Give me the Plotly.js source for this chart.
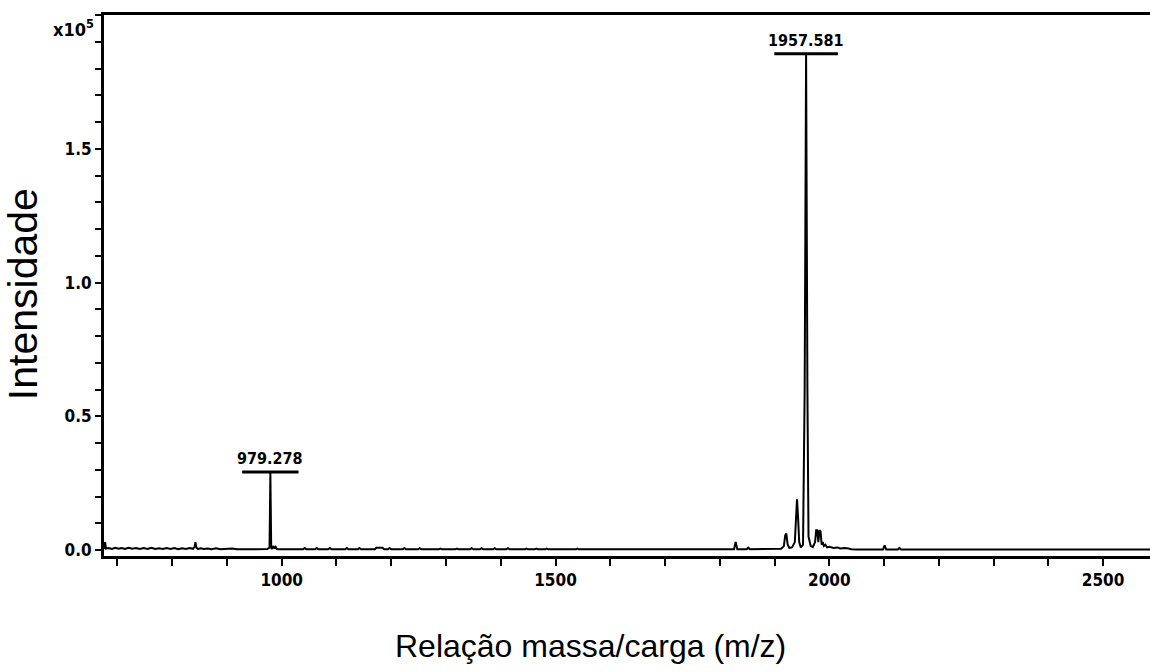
<!DOCTYPE html>
<html>
<head>
<meta charset="utf-8">
<script src="https://cdn.plot.ly/plotly-3.0.1.min.js"></script>
<style>html,body{margin:0;padding:0;background:#fff;}#chart{width:1150px;height:672px;}</style>
</head>
<body>
<div id="chart"></div>
<script>
// Spectrum values (m/z, intensity ×10^5)
const lowMassRegion = [
  [676,0.004],[677.5,0.03],[679,0.006],[684,0.008],[690,0.004],[696,0.009],[702,0.005],[708,0.008],
  [714,0.004],[720,0.009],[727,0.005],[734,0.008],[741,0.004],[748,0.008],[755,0.004],[762,0.009],
  [769,0.004],[776,0.007],[783,0.004],[790,0.008],[797,0.004],[804,0.008],[811,0.003],[818,0.007],
  [825,0.004],[832,0.008],[838,0.005],[841,0.012],[842.5,0.03],[844,0.01],[847,0.004],[852,0.007],
  [858,0.004],[865,0.006],[872,0.003],[880,0.007],[888,0.003],[895,0.004],[902,0.003],[910,0.006],
  [918,0.003],[934,0.003],[950,0.003],[966,0.003],[974,0.004],[977.8,0.01],[979.3,0.292],[980.8,0.01],
  [982,0.004],[985,0.015],[987,0.006],[989,0.012],[991,0.004],[995,0.003]
];
const midMassRegion = [
  [1010,0.003],[1039,0.003],[1042,0.008],[1045,0.003],[1061,0.003],[1064,0.008],[1067,0.003],
  [1085,0.003],[1088,0.008],[1091,0.003],[1116,0.003],[1119,0.008],[1122,0.003],[1139,0.003],
  [1142,0.008],[1145,0.003],[1170,0.003],[1173,0.009],[1184,0.009],[1187,0.003],[1194,0.003],
  [1197,0.008],[1200,0.003],[1221,0.003],[1224,0.008],[1227,0.003],[1249,0.003],[1252,0.007],
  [1255,0.003],[1287,0.003],[1290,0.006],[1293,0.003],[1317,0.003],[1320,0.006],[1323,0.003],
  [1344,0.003],[1347,0.007],[1350,0.003],[1362,0.003],[1365,0.007],[1368,0.003],[1386,0.003],
  [1389,0.007],[1392,0.003],[1410,0.003],[1413,0.007],[1416,0.003],[1444,0.003],[1447,0.006],
  [1450,0.003],[1462,0.003],[1465,0.006],[1468,0.003],[1481,0.003],[1484,0.006],[1487,0.003],
  [1537,0.003],[1540,0.006],[1543,0.003],[1609,0.003],[1612,0.005],[1615,0.003],[1700,0.003],
  [1800,0.003],[1826,0.003],[1829,0.03],[1832,0.003],[1849,0.003],[1852,0.009],[1855,0.003],
  [1900,0.004]
];
const clusterRegion = [
  [1912,0.005],[1917,0.015],[1919.5,0.055],[1921.5,0.062],[1924,0.02],[1927,0.008],[1932,0.01],
  [1937,0.03],[1939,0.12],[1941,0.19],[1943,0.12],[1945,0.03],[1948,0.01],[1952,0.02],
  [1955,0.6],[1957.58,1.855],[1960,0.6],[1962,0.05],[1966,0.015],[1970,0.012],[1974,0.03],
  [1976,0.074],[1978,0.074],[1980,0.03],[1982,0.074],[1984,0.07],[1986,0.02],[1988,0.03],
  [1990,0.015],[1993,0.02],[1996,0.01],[2000,0.012],[2008,0.008],[2015,0.01],[2020,0.006],
  [2028,0.008],[2035,0.006],[2040,0.003]
];
const highMassRegion = [
  [2050,0.002],[2098,0.002],[2101,0.018],[2104,0.002],[2125,0.002],[2128,0.008],[2131,0.002],
  [2200,0.002],[2300,0.002],[2400,0.002],[2500,0.002],[2590,0.002]
];
// Labelled peaks
const peakMz = [979.278, 1957.581];
const peakIntensity = [0.292, 1.855];
const peakLabels = ['979.278', '1957.581'];
// Axis tick labels
const xTickVals = [1000, 1500, 2000, 2500];
const xTickText = ['1000', '1500', '2000', '2500'];
const yTickVals = [0, 0.5, 1.0, 1.5];
const yTickText = ['0.0', '0.5', '1.0', '1.5'];

const allPoints = lowMassRegion.concat(midMassRegion, clusterRegion, highMassRegion);
const mz = allPoints.map(p => p[0]);
const intensity = allPoints.map(p => p[1]);

const tickFont = {family: 'DejaVu Sans Condensed, DejaVu Sans, sans-serif', size: 17, color: '#000', weight: 'bold'};
const labelFont = {family: 'DejaVu Sans Condensed, DejaVu Sans, sans-serif', size: 16, color: '#000', weight: 'bold'};
const titleFont = {family: 'Liberation Sans, Arial, sans-serif', color: '#000'};

const annotations = peakMz.map((x, i) => ({
  x: x, y: peakIntensity[i], xref: 'x', yref: 'y', text: peakLabels[i], showarrow: false,
  xanchor: 'center', yanchor: 'bottom', yshift: 2, font: labelFont
}));
annotations.push({
  xref: 'paper', yref: 'paper', x: (96 - 104) / 1046, y: 0.976, xanchor: 'right', yanchor: 'middle',
  text: 'x10<sup>5</sup>', showarrow: false, font: Object.assign({}, tickFont, {size: 18})
});
annotations.push({
  xref: 'paper', yref: 'paper', x: (23 - 104) / 1046, y: 0.484, xanchor: 'center', yanchor: 'middle',
  textangle: -90, text: 'Intensidade', showarrow: false, font: Object.assign({size: 41}, titleFont)
});
annotations.push({
  xref: 'paper', yref: 'paper', x: (590 - 104) / 1046, y: -0.166, xanchor: 'center', yanchor: 'middle',
  text: 'Relação massa/carga (m/z)', showarrow: false, font: Object.assign({size: 32}, titleFont)
});

const shapes = peakMz.map((x, i) => ({
  type: 'line', xref: 'x', yref: 'y', xsizemode: 'pixel', xanchor: x,
  x0: -(peakLabels[i].length * 3.6 + 3), x1: (peakLabels[i].length * 3.6 + 3),
  y0: peakIntensity[i], y1: peakIntensity[i],
  line: {color: '#000', width: 3}
}));

const trace = {
  x: mz, y: intensity, type: 'scatter', mode: 'lines',
  line: {color: '#000', width: 2}, hoverinfo: 'x+y', showlegend: false
};

const layout = {
  width: 1150, height: 672,
  margin: {l: 104, r: 0, t: 15, b: 116},
  paper_bgcolor: '#fff', plot_bgcolor: '#fff',
  showlegend: false,
  xaxis: {
    range: [675.5, 2585.6], showgrid: false, zeroline: false,
    showline: true, linecolor: '#000', linewidth: 3, mirror: true,
    ticks: 'outside', ticklen: 7, tickwidth: 2, tickcolor: '#000',
    tickmode: 'array', tickvals: xTickVals, ticktext: xTickText, tickfont: tickFont,
    minor: {dtick: 100, tick0: 0, ticks: 'outside', ticklen: 7, tickwidth: 2, tickcolor: '#000', showgrid: false}
  },
  yaxis: {
    range: [-0.022, 2.0], showgrid: false, zeroline: false,
    showline: true, linecolor: '#000', linewidth: 3, mirror: false,
    ticks: 'outside', ticklen: 6, tickwidth: 2, tickcolor: '#000',
    tickmode: 'array', tickvals: yTickVals, ticktext: yTickText, tickfont: tickFont,
    minor: {dtick: 0.1, tick0: 0, ticks: 'outside', ticklen: 6, tickwidth: 2, tickcolor: '#000', showgrid: false}
  },
  annotations: annotations,
  shapes: shapes
};

Plotly.newPlot('chart', [trace], layout, {staticPlot: true, displayModeBar: false});
</script>
</body>
</html>
